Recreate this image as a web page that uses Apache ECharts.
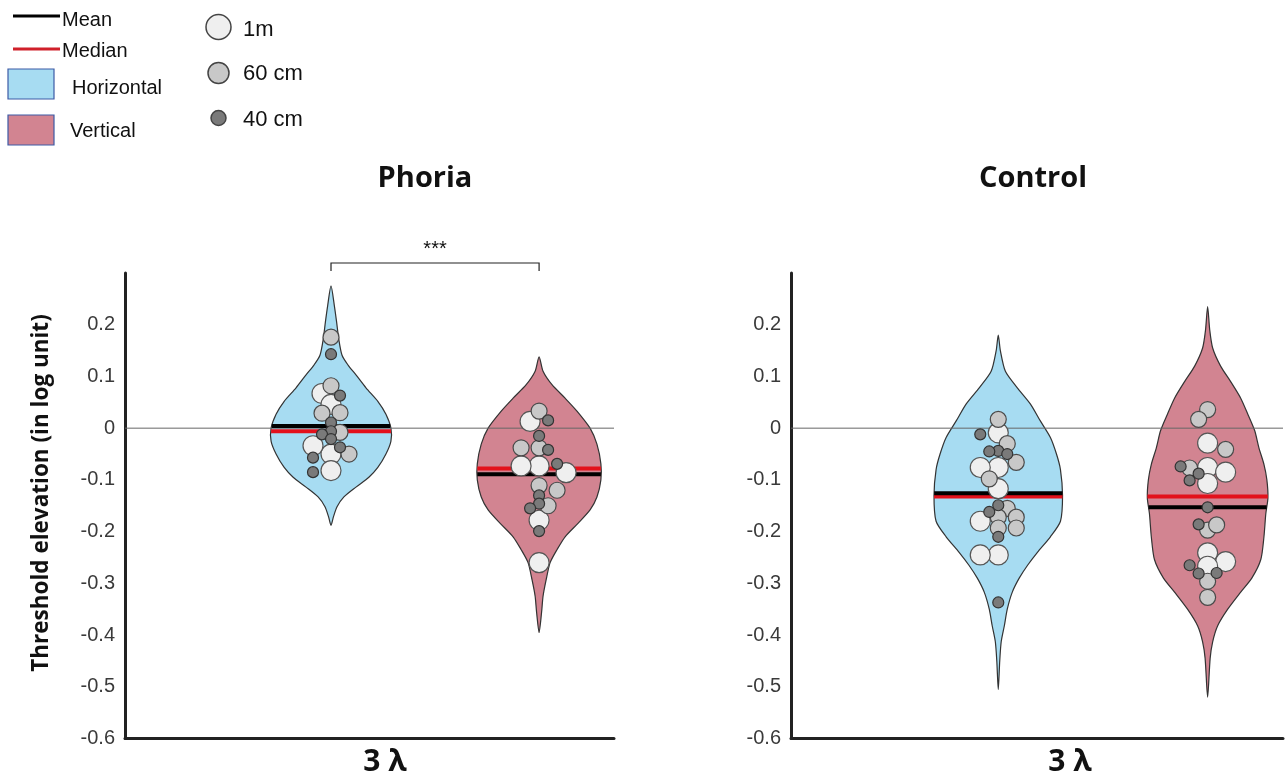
<!DOCTYPE html>
<html><head><meta charset="utf-8">
<script src="https://cdn.jsdelivr.net/npm/echarts@6.0.0/dist/echarts.min.js"></script>
<style>html,body{margin:0;padding:0;background:#fff}#c{width:1288px;height:779px}</style>
</head><body><div id="c"></div>
<script>
// ---------- data ----------
const panels = ['Phoria', 'Control'];
const groups = ['Horizontal', 'Vertical'];
const conditionLabel = '3 λ';
const yTicks = [0.2, 0.1, 0, -0.1, -0.2, -0.3, -0.4, -0.5, -0.6];
const yName = 'Threshold elevation (in log unit)';
const statLabels = ['Mean', 'Median'];
const distanceLabels = ['1m', '60 cm', '40 cm'];
const phoriaSignificance = '***';

// violin outlines: [value, half width (density, in x-axis units)]
const phoriaHorizontalViolin = [[0.275,0],[0.237,0.016],[0.205,0.027],[0.173,0.037],[0.141,0.053],[0.122,0.082],[0.103,0.12],[0.078,0.168],[0.052,0.225],[0.027,0.264],[0.0,0.288],[-0.025,0.288],[-0.05,0.264],[-0.076,0.225],[-0.095,0.182],[-0.114,0.12],[-0.133,0.062],[-0.152,0.029],[-0.171,0.012],[-0.188,0]];
const phoriaVerticalViolin = [[0.138,0],[0.11,0.019],[0.084,0.062],[0.058,0.125],[0.033,0.182],[0.0,0.245],[-0.031,0.278],[-0.069,0.297],[-0.1,0.297],[-0.133,0.278],[-0.158,0.245],[-0.184,0.187],[-0.21,0.125],[-0.235,0.086],[-0.26,0.053],[-0.293,0.034],[-0.325,0.019],[-0.356,0.012],[-0.395,0]];
const controlHorizontalViolin = [[0.18,0],[0.15,0.01],[0.11,0.034],[0.078,0.091],[0.047,0.153],[0.014,0.201],[-0.018,0.249],[-0.05,0.278],[-0.08,0.297],[-0.13,0.307],[-0.18,0.297],[-0.21,0.249],[-0.24,0.187],[-0.265,0.14],[-0.29,0.1],[-0.317,0.067],[-0.35,0.043],[-0.382,0.029],[-0.413,0.014],[-0.45,0.007],[-0.505,0]];
const controlVerticalViolin = [[0.235,0],[0.19,0.01],[0.155,0.024],[0.12,0.062],[0.09,0.11],[0.058,0.158],[0.027,0.192],[-0.005,0.225],[-0.038,0.245],[-0.07,0.269],[-0.1,0.283],[-0.135,0.288],[-0.165,0.278],[-0.21,0.269],[-0.254,0.254],[-0.29,0.211],[-0.317,0.158],[-0.35,0.096],[-0.382,0.048],[-0.413,0.024],[-0.445,0.012],[-0.52,0]];

// individual observations: [value, distance (0 = 1m, 1 = 60 cm, 2 = 40 cm)]
const phoriaHorizontalPoints = [[0.176,1],[0.143,2],[0.082,1],[0.067,0],[0.063,2],[0.046,0],[0.029,1],[0.030,1],[0.011,2],[-0.006,2],[-0.012,2],[-0.021,2],[-0.008,1],[-0.05,0],[-0.034,0],[-0.037,2],[-0.05,1],[-0.057,2],[-0.082,0],[-0.085,2]];
const phoriaVerticalPoints = [[0.033,1],[0.013,0],[0.015,2],[-0.015,2],[-0.038,1],[-0.038,1],[-0.042,2],[-0.073,0],[-0.073,0],[-0.069,2],[-0.086,0],[-0.111,1],[-0.12,1],[-0.13,2],[-0.146,2],[-0.155,2],[-0.15,1],[-0.178,0],[-0.199,2],[-0.26,0]];
const controlHorizontalPoints = [[0.017,1],[-0.009,0],[-0.012,2],[-0.03,1],[-0.044,2],[-0.045,2],[-0.05,2],[-0.076,0],[-0.076,0],[-0.066,1],[-0.098,1],[-0.117,0],[-0.149,2],[-0.155,1],[-0.162,2],[-0.172,1],[-0.172,1],[-0.18,0],[-0.193,1],[-0.193,1],[-0.21,2],[-0.245,0],[-0.245,0],[-0.337,2]];
const controlVerticalPoints = [[0.036,1],[0.017,1],[-0.029,0],[-0.041,1],[-0.076,0],[-0.077,1],[-0.085,0],[-0.074,2],[-0.088,2],[-0.107,0],[-0.101,2],[-0.153,2],[-0.197,1],[-0.187,1],[-0.186,2],[-0.241,0],[-0.258,0],[-0.267,0],[-0.265,2],[-0.28,2],[-0.281,2],[-0.296,1],[-0.327,1]];

// summary statistics [Horizontal, Vertical]
const phoriaMean = [0.004, -0.089];
const phoriaMedian = [-0.006, -0.078];
const controlMean = [-0.126, -0.153];
const controlMedian = [-0.132, -0.132];

// ---------- styles ----------
const groupColors = ['#a7dcf2', '#d28491'];
const dotFill = ['#efefef', '#c8c8c8', '#7a7a7a'];
const dotStroke = ['#555', '#4a4a4a', '#333'];
const dotSize = [20, 16, 11];
const xMin = 0.01, xMax = 2.36;

const violins = [[phoriaHorizontalViolin, phoriaVerticalViolin], [controlHorizontalViolin, controlVerticalViolin]];
const pointSets = [[phoriaHorizontalPoints, phoriaVerticalPoints], [controlHorizontalPoints, controlVerticalPoints]];
const means = [phoriaMean, controlMean];
const medians = [phoriaMedian, controlMedian];

function interpWidth(profile, v) {
  for (let i = 0; i < profile.length - 1; i++) {
    const [v1, w1] = profile[i], [v2, w2] = profile[i + 1];
    if (v <= v1 && v >= v2) { const t = (v1 - v) / (v1 - v2); return w1 + (w2 - w1) * t; }
  }
  return 0;
}

const chart = echarts.init(document.getElementById('c'));
const grids = [
  { left: 125, top: 273, width: 489, height: 465.5 },
  { left: 791, top: 273, width: 492, height: 465.5 }
];
const labelFmt = v => { const r = Math.round(v * 10) / 10; return yTicks.includes(r) ? (r === 0 ? '0' : r.toFixed(1)) : ''; };

const series = [];
panels.forEach((name, p) => {
  series.push({
    type: 'custom', xAxisIndex: p, yAxisIndex: p, z: 1, silent: true,
    data: groups.map((g, i) => [i + 1]),
    renderItem(params, api) {
      const gi = params.dataIndex, c = gi + 1, prof = violins[p][gi];
      const right = prof.map(([v, w]) => api.coord([c + w, v]));
      const left = prof.slice(1, -1).reverse().map(([v, w]) => api.coord([c - w, v]));
      return { type: 'polygon', shape: { points: right.concat(left), smooth: 0.25 },
        style: { fill: groupColors[gi], stroke: '#333', lineWidth: 1.2 } };
    }
  });
  series.push({
    type: 'line', xAxisIndex: p, yAxisIndex: p, z: 2, silent: true, symbol: 'none',
    data: [[xMin, 0], [xMax, 0]], lineStyle: { color: '#666', width: 1 }
  });
  const stat = [];
  groups.forEach((g, i) => { stat.push([i + 1, medians[p][i], 1]); stat.push([i + 1, means[p][i], 0]); });
  series.push({
    type: 'custom', xAxisIndex: p, yAxisIndex: p, z: 3, silent: true, data: stat,
    renderItem(params, api) {
      const c = api.value(0), v = api.value(1), t = api.value(2);
      const w = interpWidth(violins[p][c - 1], v);
      const a = api.coord([c - w, v]), b = api.coord([c + w, v]);
      return { type: 'line', shape: { x1: a[0], y1: a[1], x2: b[0], y2: b[1] },
        style: { stroke: t ? '#e3111b' : '#000', lineWidth: 4 } };
    }
  });
  series.push({ id: 'pts' + p, type: 'scatter', xAxisIndex: p, yAxisIndex: p, z: 4, silent: true, symbol: 'circle', data: [] });
});

chart.setOption({
  animation: false,
  grid: grids,
  xAxis: panels.map((n, p) => ({ type: 'value', gridIndex: p, min: xMin, max: xMax,
    axisLine: { show: true, onZero: false, lineStyle: { color: '#222', width: 3 } },
    axisTick: { show: false }, axisLabel: { show: false }, splitLine: { show: false } })),
  yAxis: panels.map((n, p) => ({ type: 'value', gridIndex: p, min: -0.6, max: 0.3, interval: 0.1,
    axisLine: { show: true, lineStyle: { color: '#222', width: 3 } },
    axisTick: { show: false }, splitLine: { show: false },
    axisLabel: { formatter: labelFmt, color: '#3a3a3a', fontSize: 20, fontFamily: 'Liberation Sans', margin: 10 } })),
  series
});

// beeswarm placement of points (computed in pixels, converted back through the axes)
function swarm(p, gi) {
  const pts = pointSets[p][gi];
  const cx = chart.convertToPixel({ gridIndex: p }, [gi + 1, 0])[0];
  const placed = [], out = [];
  let side = -1;
  pts.forEach(([v, k]) => {
    const py = chart.convertToPixel({ gridIndex: p }, [gi + 1, v])[1];
    const r = dotSize[k] / 2;
    let off = 0;
    for (const m of [0, 1, -1, 2, -2, 3, -3]) {
      const ox = m * side * 9;
      if (placed.every(q => Math.hypot(q.x - ox, q.y - py) >= 0.64 * (q.r + r))) { off = ox; break; }
    }
    if (off !== 0) side = -side;
    placed.push({ x: off, y: py, r });
    const xv = chart.convertFromPixel({ gridIndex: p }, [cx + off, py])[0];
    out.push({ k, item: { value: [xv, v], symbolSize: dotSize[k],
      itemStyle: { color: dotFill[k], borderColor: dotStroke[k], borderWidth: 1.2, opacity: 1 } } });
  });
  return out;
}

const ptsSeries = panels.map((n, p) => {
  let all = [];
  groups.forEach((g, gi) => { all = all.concat(swarm(p, gi)); });
  all.sort((a, b) => a.k - b.k);
  return { id: 'pts' + p, data: all.map(o => o.item) };
});

const txt = (text, x, y, font, align, extra) => Object.assign({ type: 'text', x, y, silent: true,
  style: { text, font, fill: '#111', textAlign: align || 'left', align: align || 'left', textVerticalAlign: 'middle', verticalAlign: 'middle' } }, extra || {});

const g = [];
// titles and condition labels
const titleX = [425, 1033], condX = [385, 1070];
panels.forEach((n, p) => {
  g.push(txt(n, titleX[p], 179, 'bold 29px "Open Sans"', 'center'));
  g.push(txt(conditionLabel, condX[p], 762, 'bold 30px "Open Sans"', 'center'));
});
// y axis name
g.push(txt(yName, 42, 493, 'bold 22.5px "Open Sans"', 'center', { rotation: Math.PI / 2 }));
// significance bracket between Phoria groups
const b1 = chart.convertToPixel({ gridIndex: 0 }, [1, 0])[0], b2 = chart.convertToPixel({ gridIndex: 0 }, [2, 0])[0];
g.push({ type: 'polyline', silent: true, shape: { points: [[b1, 271], [b1, 263], [b2, 263], [b2, 271]] }, style: { stroke: '#222', lineWidth: 1.2, fill: null } });
g.push(txt(phoriaSignificance, (b1 + b2) / 2, 249, '20px "Liberation Sans"', 'center'));
// legend
const lf = '20px "Liberation Sans"';
g.push({ type: 'line', shape: { x1: 13, y1: 16, x2: 60, y2: 16 }, style: { stroke: '#000', lineWidth: 3 } });
g.push(txt(statLabels[0], 62, 20, lf));
g.push({ type: 'line', shape: { x1: 13, y1: 49, x2: 60, y2: 49 }, style: { stroke: '#d0202a', lineWidth: 3 } });
g.push(txt(statLabels[1], 62, 51, lf));
g.push({ type: 'rect', shape: { x: 8, y: 69, width: 46, height: 30 }, style: { fill: groupColors[0], stroke: '#3d5aa6', lineWidth: 1.2 } });
g.push(txt(groups[0], 72, 88, lf));
g.push({ type: 'rect', shape: { x: 8, y: 115, width: 46, height: 30 }, style: { fill: groupColors[1], stroke: '#3d5aa6', lineWidth: 1.2 } });
g.push(txt(groups[1], 70, 131, lf));
const legR = [12.5, 10.5, 7.5], legY = [27, 73, 118], legTY = [30, 74, 120];
distanceLabels.forEach((d, k) => {
  g.push({ type: 'circle', shape: { cx: 218.5, cy: legY[k], r: legR[k] }, style: { fill: dotFill[k], stroke: '#444', lineWidth: 1.5 } });
  g.push(txt(d, 243, legTY[k], '22px "Liberation Sans"'));
});

chart.setOption({ series: ptsSeries, graphic: g });
</script></body></html>
